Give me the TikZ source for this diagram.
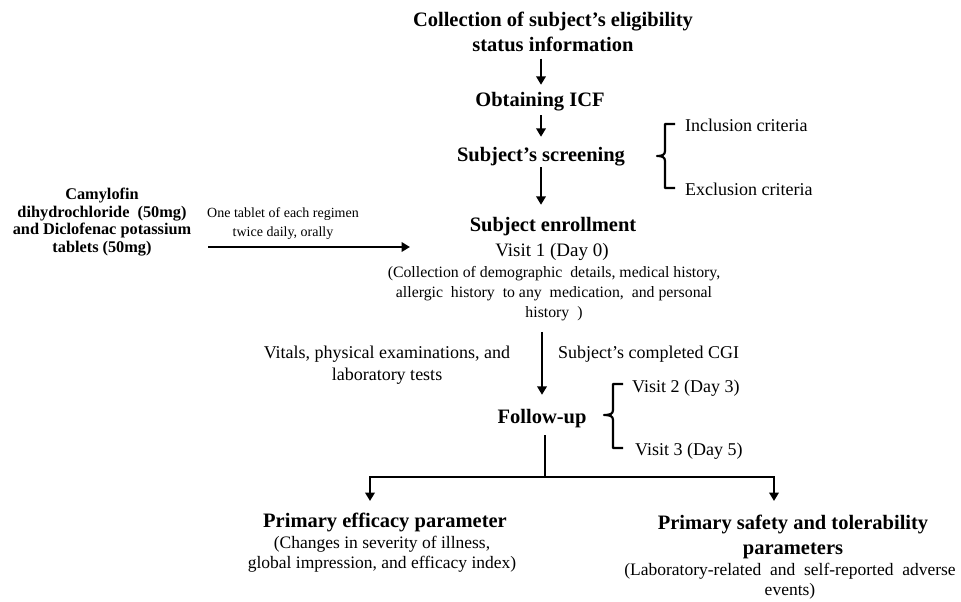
\documentclass[tikz,border=0pt]{standalone}
\usepackage{fontspec}
\setmainfont{Liberation Serif}
\usetikzlibrary{arrows.meta}
\begin{document}
\begin{tikzpicture}[x=1pt,y=-1pt,
  arr/.style={line width=2.6pt,-{Triangle[length=8.5pt,width=9.5pt]}},
  ln/.style={line width=2.6pt},
  brk/.style={line width=2.2pt, line join=round},
  hd/.style={font=\fontsize{20.5}{25}\selectfont\bfseries, align=center, inner sep=0pt},
  hdone/.style={hd, text height=14pt, text depth=4pt},
  vis/.style={font=\fontsize{19}{22}\selectfont, align=center, inner sep=0pt},
  sm/.style={font=\fontsize{15.8}{20}\selectfont, align=center, inner sep=0pt},
  side/.style={font=\fontsize{18}{22}\selectfont, align=center, inner sep=0pt},
  desc/.style={font=\fontsize{17.5}{20}\selectfont, align=center, inner sep=0pt},
  drugst/.style={font=\fontsize{16.3}{17.5}\selectfont\bfseries, align=center, inner sep=0pt},
  dosest/.style={font=\fontsize{14}{19}\selectfont, align=center, inner sep=0pt}]
\useasboundingbox (0,0) rectangle (961,602);

\node[hd] (title) at (553,32) {Collection of subject’s eligibility\\status information};
\node[hdone] (icf) at (540,101.5) {Obtaining ICF};
\node[hdone] (screen) at (541,156.5) {Subject’s screening};
\node[side, anchor=west] (incl) at (685,125) {Inclusion criteria};
\node[side, anchor=west] (excl) at (685,189) {Exclusion criteria};

\node[drugst] (drug) at (102,222) {Camylofin\\dihydrochloride\ \ (50mg)\\and Diclofenac potassium\\tablets (50mg)};
\node[dosest] (dose) at (283,223.5) {One tablet of each regimen\\twice daily, orally};

\node[hdone] (enroll) at (553,226.5) {Subject enrollment};
\node[vis] (visit1) at (552,251.5) {Visit 1 (Day 0)};
\node[sm] (coll) at (554,293.5) {(Collection of demographic\ \ details, medical history,\\allergic\ \ history\ \ to any\ \ medication,\ \ and personal\\history\ \ )};

\node[side] (vitals) at (387,365) {Vitals, physical examinations, and\\laboratory tests};
\node[side, anchor=west] (cgi) at (558,354) {Subject’s completed CGI};

\node[hdone] (follow) at (542,418.5) {Follow-up};
\node[side, anchor=west] (v2) at (632,388) {Visit 2 (Day 3)};
\node[side, anchor=west] (v3) at (635,451) {Visit 3 (Day 5)};

\node[hdone] (eff) at (385,522.5) {Primary efficacy parameter};
\node[desc] (effd) at (382,554) {(Changes in severity of illness,\\global impression, and efficacy index)};
\node[hd] (safe) at (793,537) {Primary safety and tolerability\\parameters};
\node[desc] (safed) at (790,581) {(Laboratory-related\ \ and\ \ self-reported\ \ adverse\\events)};

% main arrows (vertical spine at x = 542)
\draw[arr, shorten <=6.5pt, shorten >=7.5pt] (title.south -| screen.south) -- (icf.north -| screen.north);
\draw[arr, shorten <=4.5pt, shorten >=10.5pt] (icf.south -| screen.south) -- (screen.north);
\draw[arr, shorten <=1.5pt, shorten >=12.5pt] (screen.south) -- (enroll.north -| screen.north);
\draw[arr, shorten <=11pt, shorten >=14.5pt] (coll.south -| follow.north) -- (follow.north);

% drug arrow
\coordinate (da) at (208,247);
\coordinate (db) at (410,247);
\draw[arr] (da) -- (db);

% brackets
\draw[brk] (675,124) -- (665,124) -- (665,151) .. controls (665,155) and (662,156) .. (657,156)
  .. controls (662,156) and (665,157) .. (665,161) -- (665,188) -- (675,188);
\draw[brk] (623,384) -- (613,384) -- (613,410) .. controls (613,414) and (610,415) .. (604,415)
  .. controls (610,415) and (613,416) .. (613,420) -- (613,448) -- (623,448);

% split
\coordinate (j) at (545,477);
\coordinate (el) at (370,501);
\coordinate (er) at (774,501);
\draw[ln, shorten <=7.5pt] (follow.south -| j) -- (j);
\draw[arr] (j) -| (el);
\draw[arr] (j) -| (er);
\end{tikzpicture}
\end{document}
